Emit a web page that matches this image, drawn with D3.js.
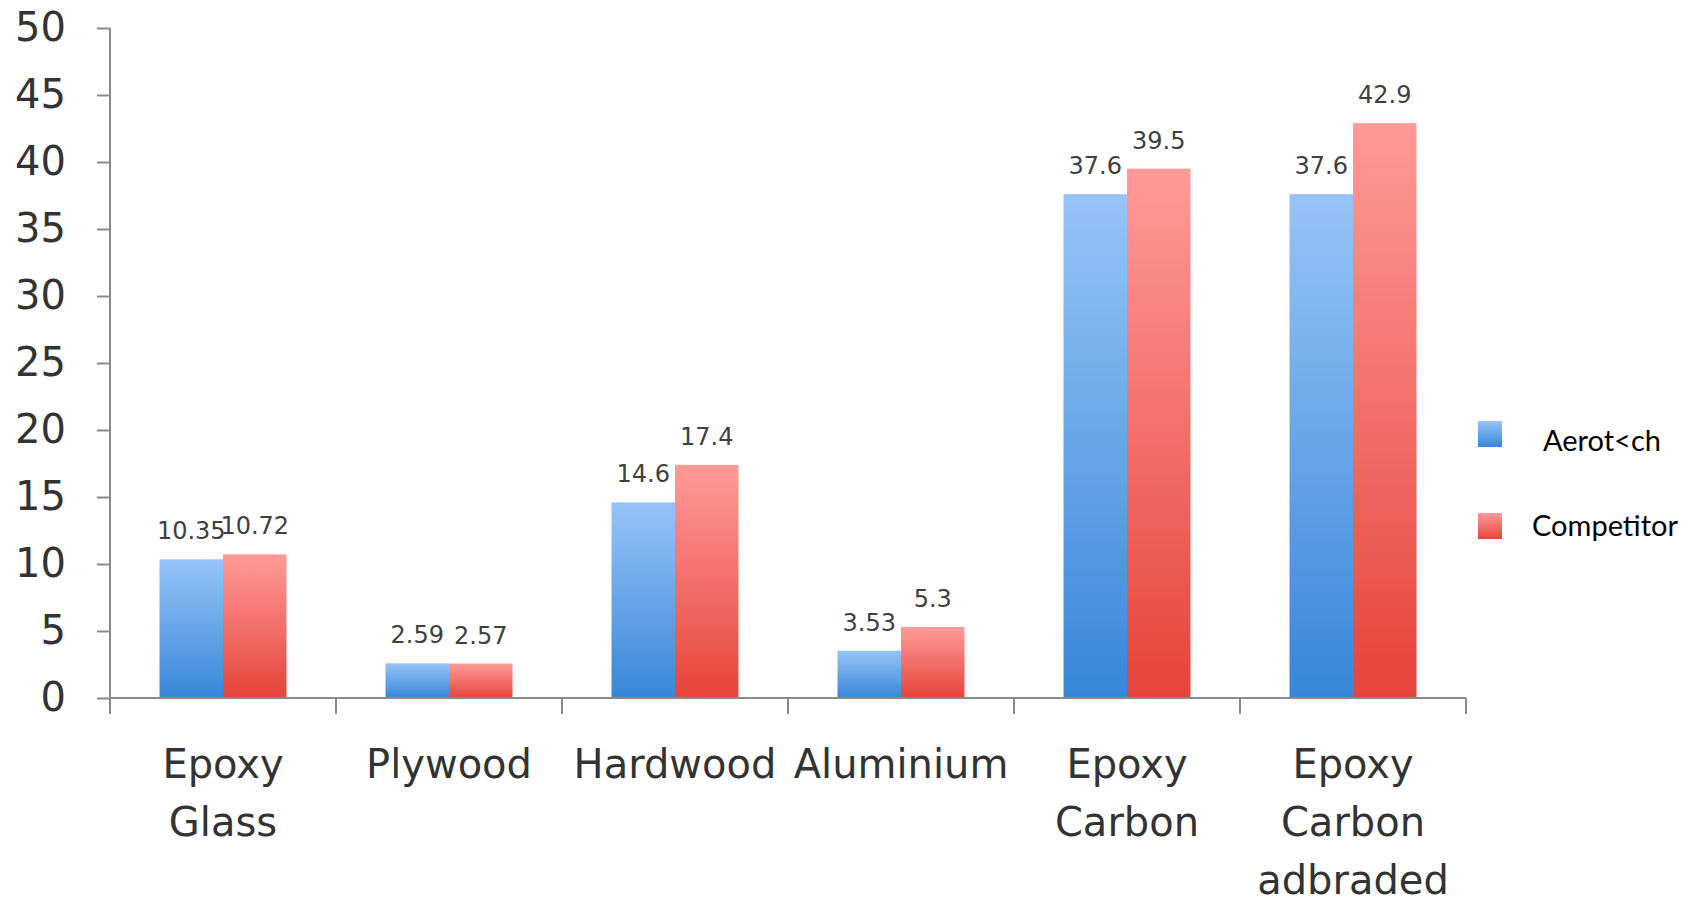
<!DOCTYPE html>
<html>
<head>
<meta charset="utf-8">
<script src="https://cdn.jsdelivr.net/npm/d3@7"></script>
<style>
  html, body { margin: 0; padding: 0; background: #ffffff; }
  svg { display: block; }
</style>
</head>
<body>
<svg id="chart" width="1694" height="903"></svg>
<script>
// Categories (multi-line labels split on "\n")
const categories = ["Epoxy\nGlass", "Plywood", "Hardwood", "Aluminium", "Epoxy\nCarbon", "Epoxy\nCarbon\nadbraded"];
const seriesNames = ["Aerot<ch", "Competitor"];
const aerotechValues = [10.35, 2.59, 14.6, 3.53, 37.6, 37.6];
const competitorValues = [10.72, 2.57, 17.4, 5.3, 39.5, 42.9];
const yTicks = [0, 5, 10, 15, 20, 25, 30, 35, 40, 45, 50];

const svg = d3.select("#chart");
const plot = { left: 110, right: 1466, top: 28, bottom: 698 };

const x0 = d3.scaleBand().domain(categories).range([plot.left, plot.right]).padding(0);
const x1 = d3.scaleBand().domain(seriesNames).range([0, x0.bandwidth()])
  .paddingInner(0).paddingOuter(0.78);
const y = d3.scaleLinear().domain([0, 50]).range([plot.bottom, plot.top]);

// Vertical gradients for each series
const defs = svg.append("defs");
const grads = [
  { id: "gBlue", top: "#97c3f8", bottom: "#3787d8" },
  { id: "gRed", top: "#ff9a98", bottom: "#e6443a" }
];
grads.forEach(g => {
  const lg = defs.append("linearGradient").attr("id", g.id)
    .attr("x1", 0).attr("y1", 0).attr("x2", 0).attr("y2", 1);
  lg.append("stop").attr("offset", "0%").attr("stop-color", g.top);
  lg.append("stop").attr("offset", "100%").attr("stop-color", g.bottom);
});
const fillFor = { "Aerot<ch": "url(#gBlue)", "Competitor": "url(#gRed)" };

const rows = categories.map((c, i) => ({
  cat: c,
  vals: [
    { s: seriesNames[0], v: aerotechValues[i] },
    { s: seriesNames[1], v: competitorValues[i] }
  ]
}));

// Bars
const groups = svg.append("g").selectAll("g").data(rows).join("g")
  .attr("transform", d => `translate(${x0(d.cat)},0)`);

groups.selectAll("rect").data(d => d.vals).join("rect")
  .attr("x", d => x1(d.s))
  .attr("y", d => y(d.v))
  .attr("width", x1.bandwidth())
  .attr("height", d => y(0) - y(d.v))
  .attr("fill", d => fillFor[d.s]);

// Value labels
groups.selectAll("text").data(d => d.vals).join("text")
  .attr("x", d => x1(d.s) + x1.bandwidth() / 2)
  .attr("y", d => y(d.v) - 20)
  .attr("text-anchor", "middle")
  .attr("font-family", "DejaVu Sans")
  .attr("font-size", 24)
  .attr("fill", "#404040")
  .text(d => d.v);

// Y axis
const yAxis = svg.append("g").attr("transform", `translate(${plot.left},0)`)
  .call(d3.axisLeft(y).tickValues(yTicks).tickSize(13).tickSizeOuter(0).tickPadding(31));
yAxis.select(".domain").attr("stroke", "#8a8a8a").attr("stroke-width", 2)
  .attr("d", `M0,${plot.top}V${plot.bottom + 16}`);
yAxis.selectAll(".tick line").attr("stroke", "#8a8a8a").attr("stroke-width", 2);
yAxis.selectAll(".tick text").attr("font-family", "DejaVu Sans").attr("font-size", 40)
  .attr("fill", "#333333");

// X axis (ticks at category boundaries)
const xAxisG = svg.append("g");
xAxisG.append("line")
  .attr("x1", plot.left).attr("x2", plot.right)
  .attr("y1", y(0)).attr("y2", y(0))
  .attr("stroke", "#8a8a8a").attr("stroke-width", 2);
const boundaries = categories.map(c => x0(c)).concat([x0(categories[categories.length - 1]) + x0.bandwidth()]);
xAxisG.selectAll("line.tk").data(boundaries).join("line").attr("class", "tk")
  .attr("x1", d => d).attr("x2", d => d)
  .attr("y1", y(0)).attr("y2", y(0) + 16)
  .attr("stroke", "#8a8a8a").attr("stroke-width", 2);

const catLabels = xAxisG.selectAll("text.cat").data(categories).join("text").attr("class", "cat")
  .attr("x", d => x0(d) + x0.bandwidth() / 2)
  .attr("y", y(0) + 80)
  .attr("text-anchor", "middle")
  .attr("font-family", "DejaVu Sans")
  .attr("font-size", 40)
  .attr("fill", "#333333");
catLabels.each(function(d) {
  const t = d3.select(this);
  d.split("\n").forEach((line, i) => {
    t.append("tspan").attr("x", x0(d) + x0.bandwidth() / 2)
      .attr("dy", i === 0 ? 0 : 58).text(line);
  });
});

// Legend
const legend = svg.append("g");
const legendTop = 421, legendGap = 92;
const labelShift = [{ dx: 65, dy: 30 }, { dx: 54, dy: 23 }];
seriesNames.forEach((s, i) => {
  const gy = legendTop + i * legendGap;
  legend.append("rect").attr("x", 1478).attr("y", gy).attr("width", 24).attr("height", 26)
    .attr("fill", fillFor[s]);
  legend.append("text").attr("x", 1478 + labelShift[i].dx).attr("y", gy + labelShift[i].dy)
    .attr("font-family", "Lato").attr("font-size", 29).attr("fill", "#000")
    .text(s);
});
</script>
</body>
</html>
